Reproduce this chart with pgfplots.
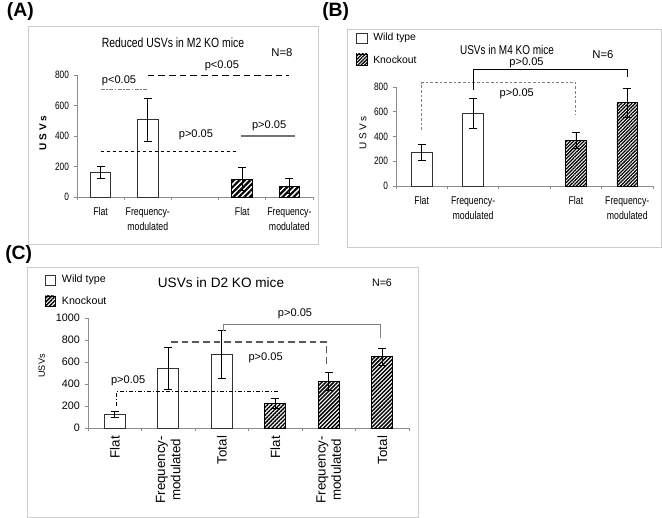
\documentclass[border=0pt]{standalone}
\usepackage{fontspec}
\setmainfont{Liberation Sans}
\newfontfamily\nar[FakeStretch=0.78]{Liberation Sans}
\usepackage{pgfplots}
\pgfplotsset{compat=1.18}
\usetikzlibrary{patterns.meta}
\definecolor{axgray}{RGB}{140,140,140}
\definecolor{framegray}{RGB}{205,205,205}
\definecolor{bargray}{RGB}{50,50,50}

\pgfplotsset{
  excel/.style={
    scale only axis, anchor=south west, clip=false,
    axis lines*=left,
    axis line style={axgray,line width=0.6pt},
    tick style={axgray,line width=0.6pt},
    tick align=outside,
    major tick length=2.5pt, minor tick length=2.5pt,
    major x tick style={draw=none},
    /pgf/number format/assume math mode=true,
    /pgf/number format/1000 sep={},
    ybar, bar width=15.5pt,
    ymin=0,
  },
  wt/.style={draw=bargray, fill=white, line width=0.7pt, bar shift=0pt,
    error bars/y dir=both, error bars/y explicit,
    error bars/error bar style={black,line width=0.6pt},
    error bars/error mark options={rotate=90,mark size=3pt,black,line width=0.6pt}},
  ko/.style 2 args={draw=black, line width=0.7pt, bar shift=0pt,
    pattern={Lines[angle=45,distance=#1,line width=#2]},
    error bars/y dir=both, error bars/y explicit,
    error bars/error bar style={black,line width=0.6pt},
    error bars/error mark options={rotate=90,mark size=3pt,black,line width=0.6pt}},
}
\newcommand\pf{\fontsize{8.3}{9}\selectfont}

\begin{document}
\begin{tikzpicture}
\useasboundingbox (0,0) rectangle (496.5pt,388.5pt);
% frames
\draw[framegray,line width=0.6pt] (21pt,205.5pt) rectangle (238.5pt,369pt);
\draw[framegray,line width=0.6pt] (260.25pt,203.25pt) rectangle (495.75pt,366.75pt);
\draw[framegray,line width=0.6pt] (20.25pt,0.75pt) rectangle (313.5pt,188.25pt);
% panel letters
\node[anchor=west,font=\bfseries\fontsize{14.5}{16}\selectfont,inner sep=0pt] at (5pt,379.5pt) {(A)};
\node[anchor=west,font=\bfseries\fontsize{14.5}{16}\selectfont,inner sep=0pt] at (241.5pt,379.5pt) {(B)};
\node[anchor=west,font=\bfseries\fontsize{14.5}{16}\selectfont,inner sep=0pt] at (3.75pt,197.25pt) {(C)};

% ================= Panel A
\node[font=\nar\fontsize{10}{11}\selectfont] at (129.75pt,356.25pt) {Reduced USVs in M2 KO mice};
\node[font=\fontsize{8.5}{10}\selectfont] at (211.5pt,348.75pt) {N=8};
\node[rotate=90,font=\bfseries\fontsize{7.5}{9}\selectfont] at (32.25pt,288.75pt) {U S V s};
\begin{axis}[excel, at={(57.75pt,240.75pt)}, width=177pt, height=91.5pt,
  xmin=-0.5, xmax=4.5, ymax=800, ytick={0,200,...,800},
  xtick={0,1,3,4}, xticklabels={Flat,{Frequency-\\modulated},Flat,{Frequency-\\modulated}},
  minor xtick={-0.5,0.5,...,4.5},
  xticklabel style={align=center,yshift=-2pt,font=\nar\fontsize{8.4}{11.4}\selectfont},
  yticklabel style={font=\nar\fontsize{8}{9}\selectfont},
  ]
\addplot[wt] coordinates {(0,163) +- (0,38) (1,507) +- (0,141)};
\addplot[ko={2.9pt}{1.6pt}] coordinates {(3,117) +- (0,77) (4,71) +- (0,50)};
\draw[gray, line width=0.7pt, dash pattern=on 3pt off 1.2pt on 1pt off 1.2pt] (0,705) -- (1,705);
\node[font=\pf] at (0.39,765) {p<0.05};
\draw[black, line width=0.9pt, dash pattern=on 5pt off 3pt] (1,795) -- (4,795);
\node[font=\pf] at (2.57,860) {p<0.05};
\draw[black, line width=0.8pt, dash pattern=on 2.5pt off 2pt] (0,300) -- (2.92,300);
\node[font=\pf] at (2.02,405) {p>0.05};
\draw[gray!90!black, line width=0.9pt] (2.97,400) -- (4.12,400);
\node[font=\pf] at (3.57,465) {p>0.05};
\end{axis}

% ================= Panel B
\node[font=\nar\fontsize{9.6}{11}\selectfont] at (380.25pt,351pt) {USVs in M4 KO mice};
\node[font=\fontsize{8.5}{10}\selectfont] at (452.25pt,347.25pt) {N=6};
\node[rotate=90,font=\fontsize{7.5}{9}\selectfont] at (272.25pt,288.75pt) {U S V s};
\draw[bargray,line width=0.6pt,fill=white] (267pt,356.25pt) rectangle (275.25pt,363.75pt);
\draw[black,line width=0.6pt,pattern={Lines[angle=45,distance=1.8pt,line width=0.95pt]}] (267pt,339.75pt) rectangle (275.25pt,348pt);
\node[anchor=west,inner sep=0pt,font=\fontsize{7.8}{9}\selectfont] at (279.75pt,360pt) {Wild type};
\node[anchor=west,inner sep=0pt,font=\fontsize{7.8}{9}\selectfont] at (279.75pt,343.5pt) {Knockout};
\begin{axis}[excel, at={(297pt,249pt)}, width=192.75pt, height=74.25pt,
  xmin=-0.5, xmax=4.5, ymax=800, ytick={0,200,...,800},
  xtick={0,1,3,4}, xticklabels={Flat,{Frequency-\\modulated},Flat,{Frequency-\\modulated}},
  minor xtick={-0.5,0.5,...,4.5},
  xticklabel style={align=center,yshift=-2pt,font=\nar\fontsize{8.4}{11.4}\selectfont},
  yticklabel style={font=\nar\fontsize{8}{9}\selectfont},
  ]
\addplot[wt] coordinates {(0,270) +- (0,63) (1,590) +- (0,121)};
\addplot[ko={1.8pt}{0.95pt}] coordinates {(3,369) +- (0,62) (4,674) +- (0,118)};
\draw[gray, line width=0.8pt, dash pattern=on 2pt off 1.5pt] (0,452) -- (0,835) -- (3,835) -- (3,574);
\draw[black, line width=0.8pt] (1,776) -- (1,943) -- (4,943) -- (4,878);
\node[font=\pf] at (1.85,749) {p>0.05};
\node[font=\pf] at (2.04,992) {p>0.05};
\end{axis}

% ================= Panel C
\node[font=\fontsize{10.2}{12}\selectfont] at (165.75pt,176.25pt) {USVs in D2 KO mice};
\node[font=\fontsize{8}{10}\selectfont] at (286.5pt,176.25pt) {N=6};
\node[rotate=90,font=\fontsize{6.8}{8}\selectfont] at (31.25pt,114pt) {USVs};
\draw[bargray,line width=0.6pt,fill=white] (33.75pt,174.75pt) rectangle (41.25pt,182.25pt);
\draw[black,line width=0.6pt,pattern={Lines[angle=45,distance=2.1pt,line width=1.1pt]}] (33.75pt,159pt) rectangle (41.25pt,166.5pt);
\node[anchor=west,inner sep=0pt,font=\fontsize{8}{9}\selectfont] at (46.25pt,178.5pt) {Wild type};
\node[anchor=west,inner sep=0pt,font=\fontsize{8}{9}\selectfont] at (46.25pt,162.75pt) {Knockout};
\begin{axis}[excel, at={(66pt,67.5pt)}, width=240.75pt, height=82.5pt,
  xmin=-0.5, xmax=5.5, ymax=1000, ytick={0,200,...,1000},
  xtick={0,1,2,3,4,5}, xticklabels={Flat,{Frequency-\\modulated},Total,Flat,{Frequency-\\modulated},Total},
  minor xtick={-0.5,0.5,...,5.5},
  xticklabel style={rotate=90,anchor=east,align=center,font=\fontsize{10}{11.5}\selectfont},
  yticklabel style={font=\fontsize{8.1}{9}\selectfont},
  ]
\addplot[wt] coordinates {(0,120) +- (0,28) (1,540) +- (0,190) (2,670) +- (0,215)};
\addplot[ko={2.1pt}{1.1pt}] coordinates {(3,225) +- (0,43) (4,426) +- (0,80) (5,646) +- (0,75)};
\draw[black, line width=0.6pt, dash pattern=on 3pt off 1.5pt on 0.8pt off 1.5pt] (0.04,201) -- (0.04,336) -- (3.06,336);
\draw[black!65, line width=0.9pt, dash pattern=on 5pt off 3pt] (1.05,781) -- (3.96,781) -- (3.96,556);
\draw[gray, line width=0.9pt] (2.04,885) -- (2.04,940) -- (4.97,940) -- (4.97,817);
\node[font=\pf] at (0.25,429) {p>0.05};
\node[font=\pf] at (2.82,640) {p>0.05};
\node[font=\pf] at (3.37,1042) {p>0.05};
\end{axis}
\end{tikzpicture}
\end{document}
